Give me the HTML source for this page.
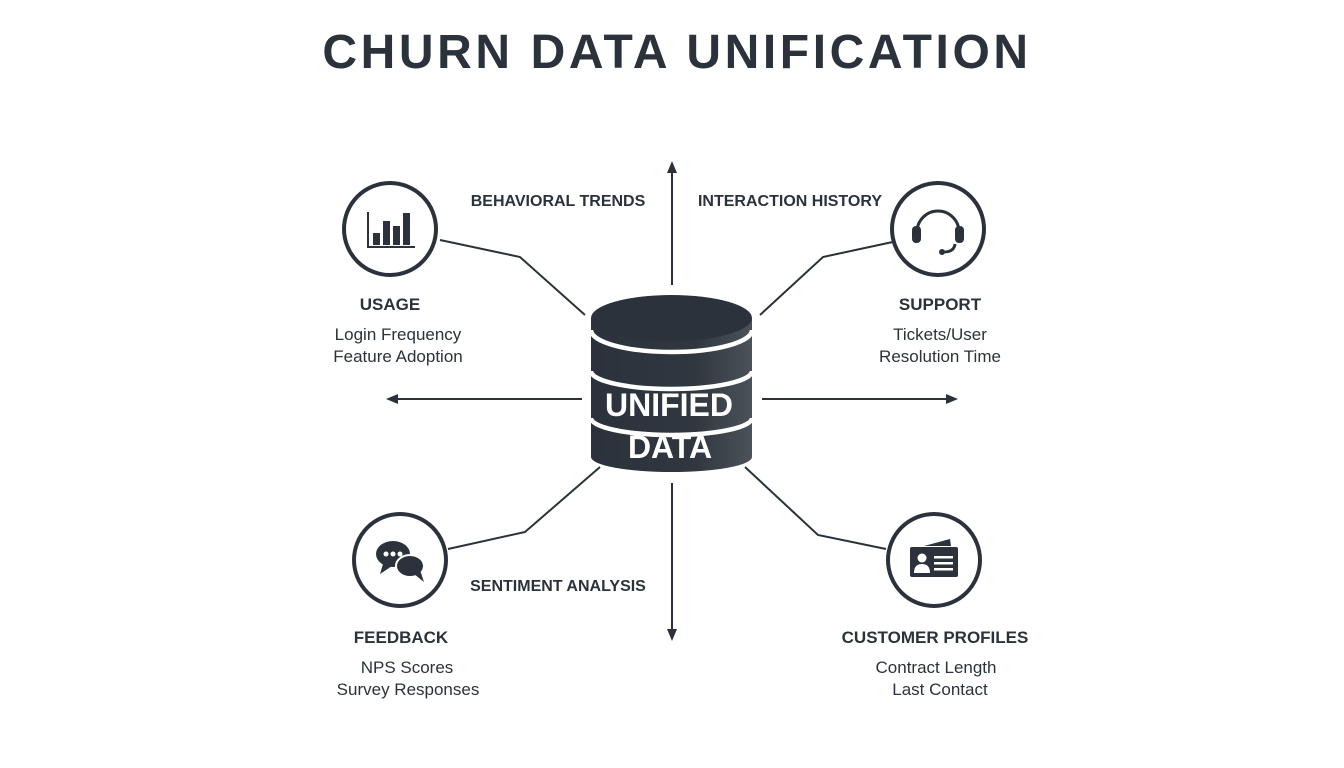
<!DOCTYPE html>
<html><head><meta charset="utf-8"><style>
html,body{margin:0;padding:0;background:#fff}
svg{display:block}
text{font-family:"Liberation Sans",sans-serif;fill:#2b323b}
</style></head><body>
<svg width="1344" height="768" viewBox="0 0 1344 768" xmlns="http://www.w3.org/2000/svg">
<defs>
<linearGradient id="g" x1="0" x2="1"><stop offset="0" stop-color="#2b323b"/><stop offset="0.65" stop-color="#30373f"/><stop offset="1" stop-color="#4c525a"/></linearGradient>
</defs>
<text x="677" y="68" text-anchor="middle" font-size="48" font-weight="bold" letter-spacing="3.6">CHURN DATA UNIFICATION</text>

<g stroke="#2b323b" stroke-width="2" fill="none">
<polyline points="440,240 520,257 585,315"/>
<polyline points="902,240 823,257 760,315"/>
<polyline points="448,549 525,532 600,467"/>
<polyline points="886,549 818,535 745,467"/>
<line x1="672" y1="285" x2="672" y2="168"/>
<line x1="672" y1="483" x2="672" y2="635"/>
<line x1="582" y1="399" x2="393" y2="399"/>
<line x1="762" y1="399" x2="951" y2="399"/>
</g>
<g fill="#2b323b">
<polygon points="672,161 667,173 677,173"/>
<polygon points="672,641 667,629 677,629"/>
<polygon points="386,399 398,394 398,404"/>
<polygon points="958,399 946,394 946,404"/>
</g>

<!-- cylinder -->
<path d="M591,318 L591,457 A80.5,15 0 0 0 752,457 L752,318 Z" fill="url(#g)"/>
<ellipse cx="671.5" cy="318" rx="80.5" ry="23" fill="#2b323b"/>
<g stroke="#fff" stroke-width="4.5" fill="none">
<path d="M591,330 A80.5,22 0 0 0 752,330"/>
<path d="M591,371 A80.5,18 0 0 0 752,371"/>
<path d="M591,418 A80.5,17 0 0 0 752,418"/>
</g>
<g font-size="32" font-weight="bold" text-anchor="middle">
<text x="669" y="416" style="fill:#fff">UNIFIED</text>
<text x="670" y="458" style="fill:#fff">DATA</text>
</g>

<!-- circles -->
<g stroke="#2b323b" stroke-width="4" fill="#fff">
<circle cx="390" cy="229" r="46"/>
<circle cx="938" cy="229" r="46"/>
<circle cx="400" cy="560" r="46"/>
<circle cx="934" cy="560" r="46"/>
</g>
<g fill="#2b323b">
<rect x="367" y="212" width="2" height="36"/>
<rect x="367" y="246" width="48" height="2"/>
<rect x="373" y="233" width="7" height="12"/>
<rect x="383" y="221" width="7" height="24"/>
<rect x="393" y="226" width="7" height="19"/>
<rect x="403" y="213" width="7" height="32"/>
</g>
<g fill="none" stroke="#2b323b" stroke-width="3">
<path d="M917,232 A21,21 0 0 1 959,232"/>
<path d="M955,244 Q954,252 944,252"/>
</g>
<g fill="#2b323b">
<rect x="912" y="226" width="9" height="17" rx="4"/>
<rect x="955" y="226" width="9" height="17" rx="4"/>
<circle cx="942" cy="252" r="3"/>
</g>
<g fill="#2b323b">
<ellipse cx="393" cy="554" rx="17" ry="13"/>
<polygon points="383,564 380,574 392,566"/>
<ellipse cx="410" cy="566" rx="14" ry="11" stroke="#fff" stroke-width="2"/>
<polygon points="414,574 424,582 420,570"/>
<circle cx="386" cy="554" r="2.5" fill="#fff"/>
<circle cx="393" cy="554" r="2.5" fill="#fff"/>
<circle cx="400" cy="554" r="2.5" fill="#fff"/>
</g>
<g fill="#2b323b">
<polygon points="924,546 950,539 951,546"/>
<rect x="910" y="547" width="48" height="30" rx="2"/>
</g>
<g fill="#fff">
<circle cx="922" cy="558" r="4.5"/>
<path d="M914,573 Q914,564 922,564 Q930,564 930,573 Z"/>
<rect x="934" y="556" width="19" height="2.5"/>
<rect x="934" y="562" width="19" height="2.5"/>
<rect x="934" y="568" width="19" height="2.5"/>
</g>

<g font-size="16" font-weight="bold">
<text x="558" y="206" text-anchor="middle">BEHAVIORAL TRENDS</text>
<text x="790" y="206" text-anchor="middle">INTERACTION HISTORY</text>
<text x="558" y="591" text-anchor="middle">SENTIMENT ANALYSIS</text>
<text x="390" y="310" text-anchor="middle" font-size="17">USAGE</text>
<text x="940" y="310" text-anchor="middle" font-size="17">SUPPORT</text>
<text x="401" y="643" text-anchor="middle" font-size="17">FEEDBACK</text>
<text x="935" y="643" text-anchor="middle" font-size="17">CUSTOMER PROFILES</text>
</g>
<g font-size="17" text-anchor="middle">
<text x="398" y="340">Login Frequency</text>
<text x="398" y="362">Feature Adoption</text>
<text x="940" y="340">Tickets/User</text>
<text x="940" y="362">Resolution Time</text>
<text x="407" y="673">NPS Scores</text>
<text x="408" y="695">Survey Responses</text>
<text x="936" y="673">Contract Length</text>
<text x="940" y="695">Last Contact</text>
</g>
</svg>
</body></html>
